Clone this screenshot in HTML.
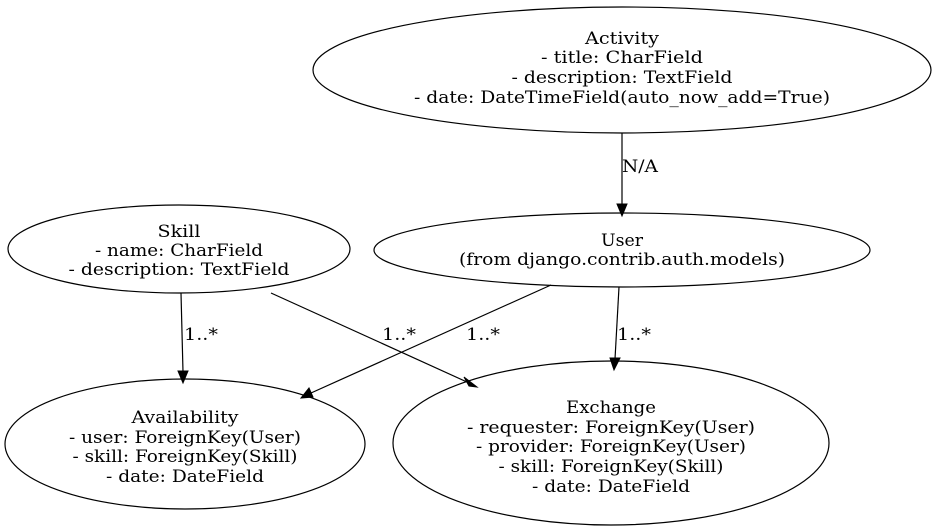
<!DOCTYPE html>
<html><head><meta charset="utf-8"><style>
html,body{margin:0;padding:0;background:#fff;}
svg{display:block;}
text{font-family:"DejaVu Serif","Liberation Serif",serif;font-size:17px;fill:#000;text-anchor:middle;}
</style></head><body>
<svg width="935" height="531" viewBox="0 0 935 531" xmlns="http://www.w3.org/2000/svg">
<g fill="none" stroke="#000" stroke-width="1.2">
<ellipse cx="622" cy="70" rx="309" ry="63"/>
<ellipse cx="622" cy="250" rx="248" ry="37"/>
<ellipse cx="179" cy="249" rx="171" ry="44"/>
<ellipse cx="185" cy="444" rx="180" ry="65"/>
<ellipse cx="611" cy="443" rx="218" ry="82"/>
<line x1="622" y1="133" x2="622" y2="204"/>
<line x1="181" y1="293" x2="183" y2="372"/>
<line x1="271" y1="293" x2="467" y2="382"/>
<line x1="551" y1="285" x2="311" y2="393"/>
<line x1="619" y1="287" x2="615" y2="359"/>
</g>
<g fill="#000" stroke="#000">
<polygon points="617,204 627,204 622,216"/>
<polygon points="178,371 188,371 183,383"/>
<polygon points="464,377 469,386 477,387"/>
<polygon points="309,388 313,397 301,398"/>
<polygon points="610,358 620,358 614,370"/>
</g>
<g lengthAdjust="spacingAndGlyphs">
<text x="622" y="44" textLength="74" lengthAdjust="spacingAndGlyphs">Activity</text>
<text x="622" y="63" textLength="162" lengthAdjust="spacingAndGlyphs">- title: CharField</text>
<text x="622" y="83" textLength="221" lengthAdjust="spacingAndGlyphs">- description: TextField</text>
<text x="622" y="103" textLength="416" lengthAdjust="spacingAndGlyphs">- date: DateTimeField(auto_now_add=True)</text>
<text x="640" y="172" textLength="36" lengthAdjust="spacingAndGlyphs">N/A</text>
<text x="622" y="246" textLength="42" lengthAdjust="spacingAndGlyphs">User</text>
<text x="622" y="265" textLength="326" lengthAdjust="spacingAndGlyphs">(from django.contrib.auth.models)</text>
<text x="179" y="237" textLength="43" lengthAdjust="spacingAndGlyphs">Skill</text>
<text x="179" y="256" textLength="168" lengthAdjust="spacingAndGlyphs">- name: CharField</text>
<text x="179" y="275" textLength="221" lengthAdjust="spacingAndGlyphs">- description: TextField</text>
<text x="201" y="340" textLength="34" lengthAdjust="spacingAndGlyphs">1..*</text>
<text x="399" y="340" textLength="34" lengthAdjust="spacingAndGlyphs">1..*</text>
<text x="483" y="340" textLength="34" lengthAdjust="spacingAndGlyphs">1..*</text>
<text x="634" y="340" textLength="34" lengthAdjust="spacingAndGlyphs">1..*</text>
<text x="185" y="423" textLength="107" lengthAdjust="spacingAndGlyphs">Availability</text>
<text x="185" y="443" textLength="232" lengthAdjust="spacingAndGlyphs">- user: ForeignKey(User)</text>
<text x="185" y="462" textLength="225" lengthAdjust="spacingAndGlyphs">- skill: ForeignKey(Skill)</text>
<text x="185" y="482" textLength="158" lengthAdjust="spacingAndGlyphs">- date: DateField</text>
<text x="611" y="413" textLength="90" lengthAdjust="spacingAndGlyphs">Exchange</text>
<text x="611" y="433" textLength="288" lengthAdjust="spacingAndGlyphs">- requester: ForeignKey(User)</text>
<text x="611" y="452" textLength="270" lengthAdjust="spacingAndGlyphs">- provider: ForeignKey(User)</text>
<text x="611" y="472" textLength="225" lengthAdjust="spacingAndGlyphs">- skill: ForeignKey(Skill)</text>
<text x="611" y="492" textLength="158" lengthAdjust="spacingAndGlyphs">- date: DateField</text>
</g>
</svg>
</body></html>
